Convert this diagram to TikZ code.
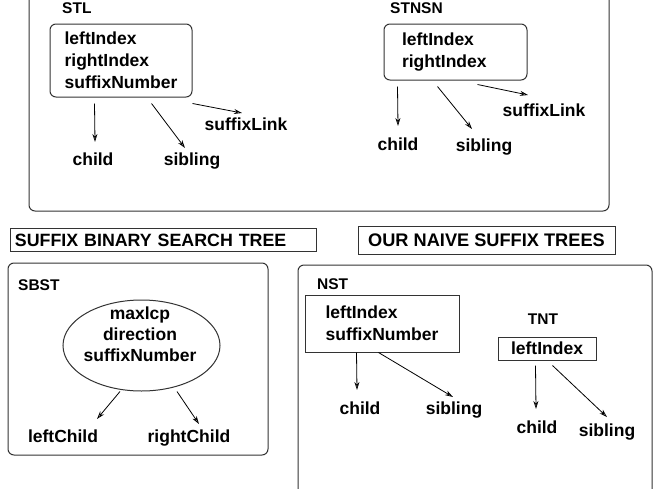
\documentclass[tikz,border=0pt]{standalone}
\usepackage{fontspec}
\setmainfont{Liberation Sans}
\usetikzlibrary{shapes.geometric, arrows.meta, positioning, calc}

\begin{document}
\begin{tikzpicture}[x=1pt, y=-1pt]
    \tikzstyle{panel} = [draw=black!80, line width=1pt, rounded corners=6pt]
    \tikzstyle{record} = [rectangle, rounded corners=6pt, draw=black!80, line width=1pt, align=left, font=\fontsize{17.5}{22}\selectfont\bfseries, inner sep=0pt]
    \tikzstyle{field} = [font=\fontsize{17.5}{22}\selectfont\bfseries, text height=13pt, text depth=4pt, inner sep=0pt]
    \tikzstyle{tag} = [font=\fontsize{15.5}{18}\selectfont\bfseries, inner sep=0pt]
    \tikzstyle{heading} = [rectangle, draw=black!80, line width=1pt, font=\fontsize{18.2}{22}\selectfont\bfseries, inner sep=0pt, text height=13.5pt, text depth=0pt]
    \tikzstyle{arrow} = [line width=0.8pt, -{Stealth[length=8pt,width=5pt,inset=2.5pt,open]}]

    \useasboundingbox (0,0) rectangle (654,488);

    % suffix tree node layouts
    \draw[panel] (29,-20) rectangle (609,211);

    \node[tag, anchor=base west] (stltag) at (62,13.5) {STL};
    \node[record, minimum width=142pt, minimum height=73pt] (stl) at (121,60.5) {leftIndex\\rightIndex\\suffixNumber};
    \node[field] (stlchild) at (93,160.5) {child};
    \node[field] (stlsib) at (192,160.5) {sibling};
    \node[field] (stllink) at (246,125.5) {suffixLink};
    \draw[arrow] ($(stl.south west)+(45,6)$) -- ($(stlchild)+(2,-18.5)$);
    \draw[arrow] ($(stl.south west)+(102,6)$) -- ($(stlsib)+(-7,-12.5)$);
    \draw[arrow] ($(stl.south east)+(0,6)$) -- ($(stllink)+(-4,-12.5)$);

    \node[tag, anchor=base west] (stnsntag) at (390,13.5) {STNSN};
    \node[record, text width=107pt, inner xsep=18pt, minimum height=56pt] (stnsn) at (455.5,52) {leftIndex\\rightIndex};
    \node[field] (stnchild) at (398,145.5) {child};
    \node[field] (stnsib) at (484,147) {sibling};
    \node[field] (stnlink) at (544,112) {suffixLink};
    \draw[arrow] ($(stnsn.south west)+(14,6)$) -- ($(stnchild)+(0,-19.5)$);
    \draw[arrow] ($(stnsn.south west)+(54,6)$) -- ($(stnsib)+(-12,-18)$);
    \draw[arrow] ($(stnsn.south west)+(94,4)$) -- ($(stnlink)+(-16,-17)$);

    % binary search tree
    \node[heading, font=\fontsize{17.8}{22}\selectfont\bfseries, text width=296pt, align=left, inner xsep=5pt, minimum height=23pt] (sbsthead) at (163,239.5) {SUFFIX BINARY SEARCH TREE};
    \draw[panel] (8,263) rectangle (268,455);
    \node[tag, anchor=base west] (sbsttag) at (18,290) {SBST};
    \node[ellipse, draw=black!80, line width=1pt, minimum width=157pt, minimum height=91pt, inner sep=0pt] (sbst) at (141.5,345.5) {};
    \node[font=\fontsize{17.5}{21}\selectfont\bfseries, align=center, inner sep=0pt] (sbstfields) at (140,334) {maxlcp\\direction\\suffixNumber};
    \node[field] (leftchild) at (63,438) {leftChild};
    \node[field] (rightchild) at (189,438) {rightChild};
    \draw[arrow] ($(sbst.south)+(-21.5,0)$) -- ($(leftchild)+(34,-19)$);
    \draw[arrow] ($(sbst.south)+(35.5,0)$) -- ($(rightchild)+(10,-14)$);

    % naive trees
    \node[heading, minimum width=257pt, minimum height=28pt] (nsthead) at (486.5,240) {OUR NAIVE SUFFIX TREES};
    \draw[panel] (298,265) rectangle (652,520);

    \node[tag, anchor=base west] (nsttag) at (317,289.5) {NST};
    \node[record, sharp corners, minimum width=154pt, minimum height=57pt] (nst) at (382,323.5) {leftIndex\\suffixNumber};
    \node[field] (nstchild) at (360,409.5) {child};
    \node[field] (nstsib) at (454,409.5) {sibling};
    \draw[arrow] ($(nst.south west)+(52,0)$) -- ($(nstchild)+(-3,-19.5)$);
    \draw[arrow] ($(nst.south west)+(74,0)$) -- ($(nstsib)+(-1,-12.5)$);

    \node[tag, anchor=base] (tnttag) at (543,324) {TNT};
    \node[record, sharp corners, minimum width=98pt, minimum height=23pt] (tnt) at (547,348.5) {leftIndex};
    \node[field] (tntchild) at (537,428.5) {child};
    \node[field] (tntsib) at (607,431.5) {sibling};
    \draw[arrow] ($(tnt.south west)+(38,5)$) -- ($(tntchild)+(-1,-19.5)$);
    \draw[arrow] ($(tnt.south west)+(55,5)$) -- ($(tntsib)+(0,-14.5)$);
\end{tikzpicture}
\end{document}
